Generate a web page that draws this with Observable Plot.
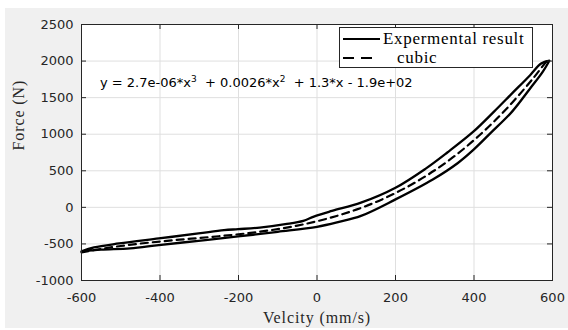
<!DOCTYPE html>
<html>
<head>
<meta charset="utf-8">
<script src="https://cdn.jsdelivr.net/npm/d3@7"></script>
<script src="https://cdn.jsdelivr.net/npm/@observablehq/plot@0.6"></script>
<style>
  html, body { margin: 0; padding: 0; background: #ffffff; }
  #wrap { position: relative; width: 568px; height: 330px; overflow: hidden; }
  #panel { position: absolute; left: 5px; top: 8px; right: 0; bottom: 2px; background: #f0f0f0; }
  #chart { position: absolute; left: 0; top: 0; }
  #eq { position: absolute; left: 100px; top: 75px; font-family: "DejaVu Sans", sans-serif; font-size: 13px; color: #000; white-space: pre; }
  #eq sup { font-size: 9px; vertical-align: 5px; line-height: 0; }
  #legend { position: absolute; left: 339px; top: 27px; width: 192px; height: 39px; background: #fff; border: 1px solid #262626; }
  .row { position: absolute; left: 0; height: 20px; font-family: "Liberation Serif", "Times New Roman", serif; font-size: 17px; letter-spacing: 0.7px; color: #000; white-space: nowrap; }
  .row svg { position: absolute; left: 3px; top: 0; }
  .row span { position: absolute; top: 0; line-height: 20px; }
</style>
</head>
<body>
<div id="wrap">
  <div id="panel"></div>
  <div id="chart"></div>
  <div id="eq">y = 2.7e-06*x<sup>3</sup>  + 0.0026*x<sup>2</sup>  + 1.3*x - 1.9e+02</div>
  <div id="legend">
    <div class="row" style="top:1px">
      <svg width="40" height="20"><line x1="0" x2="37" y1="10" y2="10" stroke="#000" stroke-width="2.2"/></svg>
      <span style="left:43px">Expermental result</span>
    </div>
    <div class="row" style="top:20px">
      <svg width="40" height="20"><line x1="0" x2="29" y1="10" y2="10" stroke="#000" stroke-width="2.2" stroke-dasharray="11,7"/></svg>
      <span style="left:57px">cubic</span>
    </div>
  </div>
</div>
<script>
// Axis ticks
const xTicks = [-600, -400, -200, 0, 200, 400, 600];
const yTicks = [-1000, -500, 0, 500, 1000, 1500, 2000, 2500];

// Experimental result: lower branch (increasing velocity)
const lowerV = [-600, -550, -476, -403, -302, -201, -100, 0, 56, 112, 200, 295, 359, 399, 442, 497, 543, 575, 592];
const lowerF = [-602, -579, -561, -516, -457, -398, -334, -266, -199, -117, 109, 381, 607, 789, 1015, 1309, 1626, 1853, 2005];
// Experimental result: upper branch (decreasing velocity)
const upperV = [592, 571, 543, 497, 451, 399, 332, 277, 200, 112, 38, -8, -35, -81, -146, -201, -237, -302, -403, -504, -568, -600];
const upperF = [2005, 1966, 1807, 1558, 1309, 1038, 750, 530, 268, 64, -49, -126, -185, -230, -276, -298, -312, -357, -425, -493, -547, -602];

// Cubic fit (dashed)
const cubicV = [-600, -550, -500, -450, -400, -350, -300, -250, -200, -150, -100, -50, 0, 50, 100, 150, 200, 250, 300, 350, 400, 450, 500, 550, 590];
const cubicF = [-615, -568, -528, -495, -467, -442, -419, -395, -368, -336, -297, -249, -190, -118, -31, 72, 196, 340, 507, 699, 919, 1168, 1448, 1760, 2035];

const expData = lowerV.map((v, i) => ({v, f: lowerF[i]})).concat(upperV.map((v, i) => ({v, f: upperF[i]})));
const cubicData = cubicV.map((v, i) => ({v, f: cubicF[i]}));

const W = 568, H = 330, mL = 81, mR = 16, mT = 24, mB = 50;
const innerW = W - mL - mR, innerH = H - mT - mB, tk = 5;
const fmt = d => String(d);

const chart = Plot.plot({
  width: W, height: H,
  marginLeft: mL, marginRight: mR, marginTop: mT, marginBottom: mB,
  style: {background: "transparent", fontFamily: "DejaVu Sans, sans-serif", fontSize: "13px", color: "#262626", overflow: "visible"},
  x: {domain: [-600, 600]},
  y: {domain: [-1000, 2500]},
  marks: [
    Plot.frame({fill: "white", stroke: "none"}),
    Plot.gridX(xTicks, {stroke: "#dfdfdf", strokeOpacity: 1}),
    Plot.gridY(yTicks, {stroke: "#dfdfdf", strokeOpacity: 1}),
    Plot.line(expData, {x: "v", y: "f", stroke: "#000", strokeWidth: 2.3, curve: "catmull-rom"}),
    Plot.line(cubicData, {x: "v", y: "f", stroke: "#000", strokeWidth: 2.2, strokeDasharray: "7,5", curve: "catmull-rom"}),
    Plot.frame({stroke: "#262626", strokeWidth: 1}),
    Plot.tickX(xTicks, {x: d => d, insetTop: innerH - tk, stroke: "#262626"}),
    Plot.tickX(xTicks, {x: d => d, insetBottom: innerH - tk, stroke: "#262626"}),
    Plot.tickY(yTicks, {y: d => d, insetRight: innerW - tk, stroke: "#262626"}),
    Plot.tickY(yTicks, {y: d => d, insetLeft: innerW - tk, stroke: "#262626"}),
    Plot.axisX(xTicks, {tickSize: 0, tickPadding: 12, label: null, fontSize: 13, tickFormat: fmt}),
    Plot.axisY(yTicks, {tickSize: 0, tickPadding: 8, label: null, fontSize: 13, tickFormat: fmt}),
    Plot.text(["Velcity (mm/s)"], {frameAnchor: "bottom", dy: 37, fontFamily: "Liberation Serif, serif", fontSize: 16, fill: "#262626", lineAnchor: "middle"}),
    Plot.text(["Force (N)"], {frameAnchor: "left", dx: -63, dy: -2, rotate: -90, fontFamily: "Liberation Serif, serif", fontSize: 16, fill: "#262626", lineAnchor: "middle"})
  ]
});
d3.select(chart).selectAll("text").filter(function () {
  return this.textContent === "Velcity (mm/s)" || this.textContent === "Force (N)";
}).attr("letter-spacing", "0.9px");
document.getElementById("chart").appendChild(chart);
</script>
</body>
</html>
